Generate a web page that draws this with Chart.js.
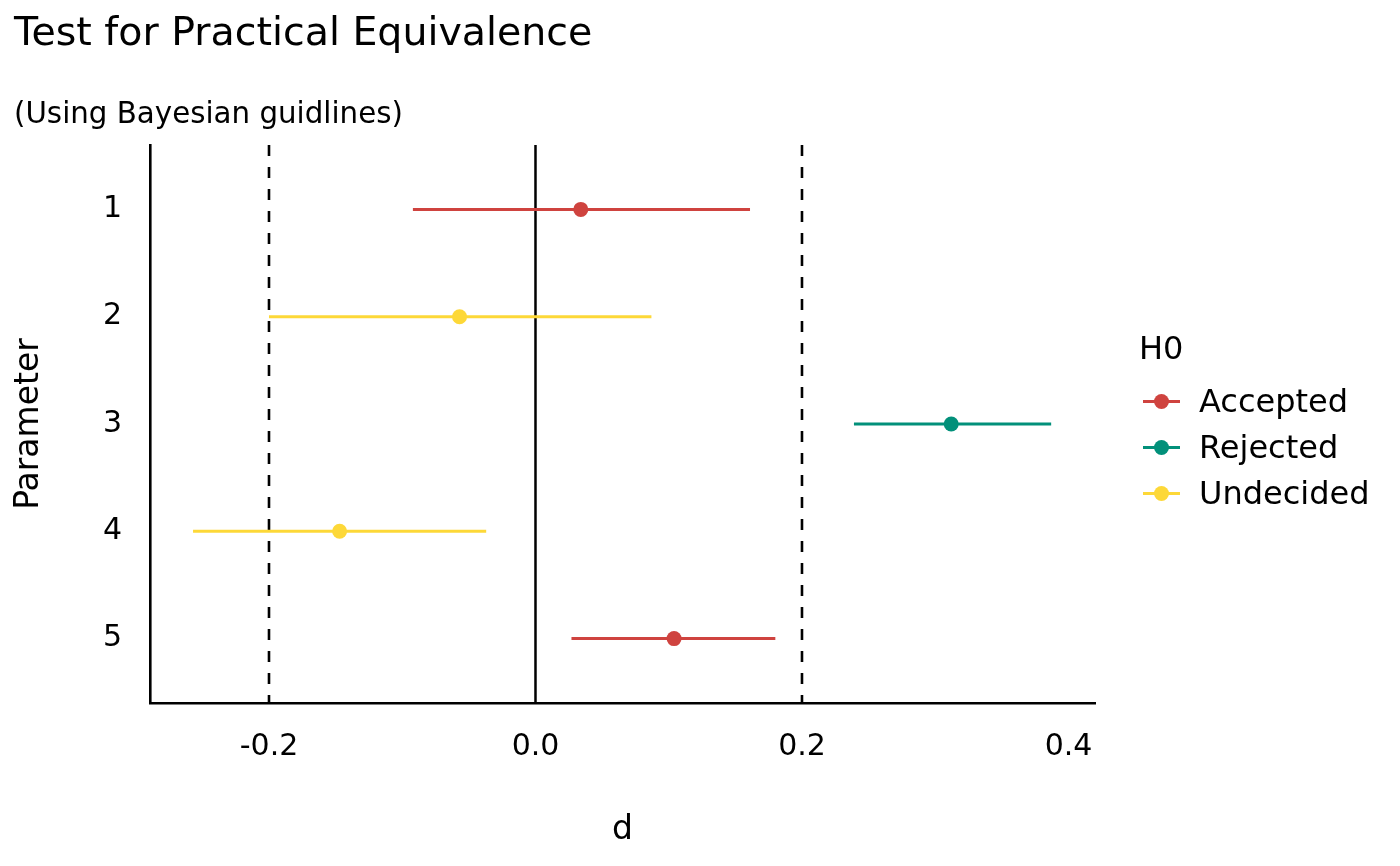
<!DOCTYPE html>
<html>
<head>
<meta charset="utf-8">
<script src="https://cdn.jsdelivr.net/npm/chart.js@4.4.1/dist/chart.umd.min.js"></script>
<style>
  html, body { margin: 0; padding: 0; background: #fff; }
  #wrap { position: relative; width: 1400px; height: 866px; font-family: "DejaVu Sans", sans-serif; color: #000; }
  #c { position: absolute; left: 0; top: 0; }
  .title { position: absolute; left: 14px; top: 12px; font-size: 39.5px; line-height: 39.5px; white-space: nowrap; }
  .subtitle { position: absolute; left: 14px; top: 99px; font-size: 29.3px; line-height: 29px; white-space: nowrap; }
  #legend { position: absolute; left: 1139px; top: 328px; }
  #legend .lt { font-size: 32px; line-height: 40px; height: 50px; }
  #legend .it { position: relative; height: 46px; font-size: 32px; line-height: 46px; padding-left: 60px; white-space: nowrap; }
  #legend .ln { position: absolute; left: 4px; top: 21.5px; width: 37px; height: 3px; }
  #legend .dt { position: absolute; left: 14.5px; top: 15.5px; width: 15px; height: 15px; border-radius: 50%; }
</style>
</head>
<body>
<div id="wrap">
  <canvas id="c" width="1400" height="866"></canvas>
  <div class="title">Test for Practical Equivalence</div>
  <div class="subtitle">(Using Bayesian guidlines)</div>
  <div id="legend"></div>
</div>
<script>
// ---- data ----
const parameters = ["1", "2", "3", "4", "5"];
const estimates  = [0.034, -0.057, 0.312, -0.147, 0.104];
const ciLow      = [-0.092, -0.200, 0.239, -0.257, 0.027];
const ciHigh     = [0.161, 0.087, 0.387, -0.037, 0.180];
const h0Status   = ["Accepted", "Undecided", "Rejected", "Undecided", "Accepted"];
const groups     = ["Accepted", "Rejected", "Undecided"];
const groupColors = ["#CF433F", "#02907A", "#FDD838"];
const ropeBounds = [-0.2, 0.2];
const xTicks     = [-0.2, 0.0, 0.2, 0.4];
const xLimits    = [-0.2893, 0.4199];
const yLimits    = [0.4, 5.6];

const colorOf = s => groupColors[groups.indexOf(s)];
const FONT = "DejaVu Sans";

const datasets = [];
// reference lines
datasets.push({ data: [{x: 0, y: yLimits[0]}, {x: 0, y: yLimits[1]}], showLine: true,
  borderColor: "#000", borderWidth: 2.5, pointRadius: 0, order: 5 });
ropeBounds.forEach(b => datasets.push({ data: [{x: b, y: yLimits[0]}, {x: b, y: yLimits[1]}], showLine: true,
  borderColor: "#000", borderWidth: 2.6, borderDash: [11, 11], pointRadius: 0, order: 5 }));
// intervals
parameters.forEach((p, i) => datasets.push({
  data: [{x: ciLow[i], y: i + 1}, {x: ciHigh[i], y: i + 1}], showLine: true,
  borderColor: colorOf(h0Status[i]), borderWidth: 3, pointRadius: 0, order: 2 }));
// points per group
groups.forEach((g, gi) => datasets.push({
  label: g,
  data: parameters.map((p, i) => h0Status[i] === g ? {x: estimates[i], y: i + 1} : null).filter(d => d),
  backgroundColor: groupColors[gi], borderColor: groupColors[gi], borderWidth: 0,
  pointRadius: 7.5, pointHoverRadius: 7.5, order: 1 }));

new Chart(document.getElementById("c"), {
  type: "scatter",
  data: { datasets },
  options: {
    responsive: false, animation: false, devicePixelRatio: 1,
    layout: { padding: { left: 0, right: 305, top: 145, bottom: 0 } },
    plugins: { legend: { display: false }, tooltip: { enabled: false } },
    scales: {
      x: {
        type: "linear", min: xLimits[0], max: xLimits[1],
        afterBuildTicks: s => { s.ticks = xTicks.map(v => ({ value: v })); },
        afterFit: s => { s.height = 163; },
        grid: { display: false, drawTicks: false },
        border: { display: true, color: "#000", width: 2.6 },
        ticks: { color: "#000", padding: 26, font: { family: FONT, size: 30 },
          callback: v => v.toFixed(1), maxRotation: 0 },
        title: { display: true, text: "d", color: "#000", font: { family: FONT, size: 33 },
          padding: { top: 0, bottom: 16 } }
      },
      y: {
        type: "linear", min: yLimits[0], max: yLimits[1], reverse: true,
        afterBuildTicks: s => { s.ticks = parameters.map((p, i) => ({ value: i + 1 })); },
        afterFit: s => { s.width = 150; },
        grid: { display: false, drawTicks: false },
        border: { display: true, color: "#000", width: 2.6 },
        ticks: { color: "#000", padding: 28, font: { family: FONT, size: 30 },
          callback: v => parameters[Math.round(v) - 1] },
        title: { display: true, text: "Parameter", color: "#000", font: { family: FONT, size: 33 },
          padding: { top: 10, bottom: 0 } }
      }
    }
  }
});

// legend
const lg = document.getElementById("legend");
lg.innerHTML = '<div class="lt">H0</div>' + groups.map((g, i) =>
  '<div class="it"><span class="ln" style="background:' + groupColors[i] + '"></span>' +
  '<span class="dt" style="background:' + groupColors[i] + '"></span>' + g + '</div>').join("");
</script>
</body>
</html>
